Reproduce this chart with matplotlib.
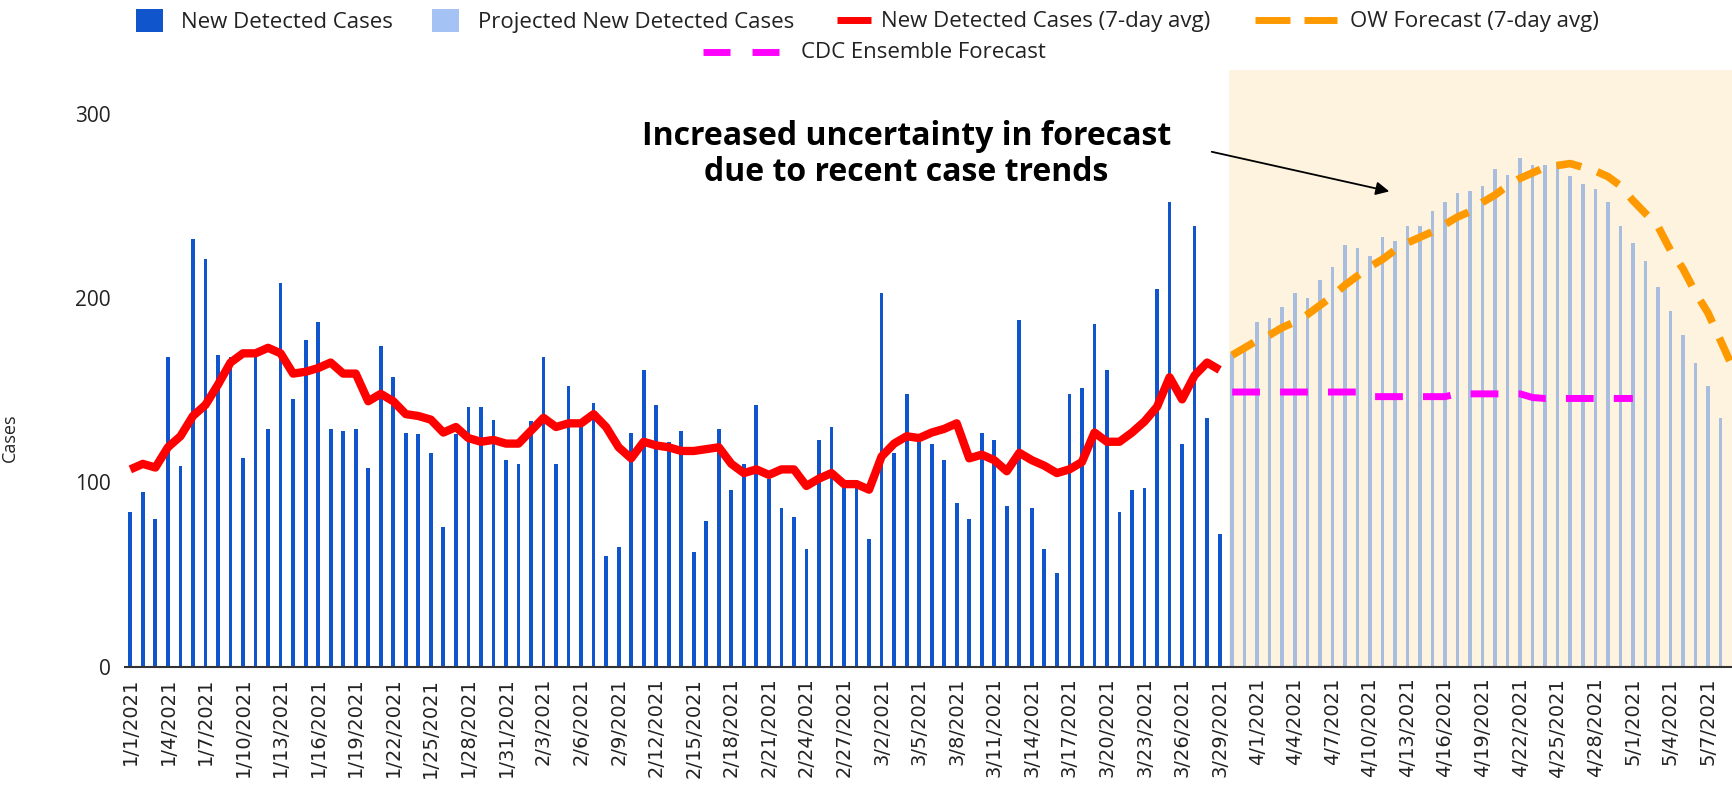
import matplotlib
matplotlib.use("Agg")
import matplotlib.pyplot as plt
import pandas as pd
import numpy as np
from matplotlib.patches import Patch
from matplotlib.lines import Line2D

# new detected cases, 1/1/2021 - 3/29/2021
detected = [84, 95, 80, 168, 109, 232, 221, 169, 168, 113, 172, 129, 208, 145, 177, 187,
            129, 128, 129, 108, 174, 157, 127, 126, 116, 76, 126, 141, 141, 134, 112, 110,
            133, 168, 110, 152, 130, 143, 60, 65, 127, 161, 142, 122, 128, 62, 79, 129,
            96, 110, 142, 102, 86, 81, 64, 123, 130, 98, 101, 69, 203, 116, 148, 122,
            121, 112, 89, 80, 127, 123, 87, 188, 86, 64, 51, 148, 151, 186, 161, 84,
            96, 97, 205, 252, 121, 239, 135, 72]
# projected new detected cases, 3/30/2021 - 5/8/2021
projected = [170, 171, 187, 189, 195, 203, 200, 210, 217, 229, 227, 223, 233, 231, 239, 239,
             247, 252, 257, 258, 261, 270, 267, 276, 272, 272, 274, 266, 262, 259, 252, 239,
             230, 220, 206, 193, 180, 165, 152, 135]
# 7-day average of detected cases
avg7 = [107, 110, 108, 119, 125, 136, 142, 153, 165, 170, 170, 173, 170, 159, 160, 162,
        165, 159, 159, 144, 148, 144, 137, 136, 134, 127, 130, 124, 122, 123, 121, 121,
        128, 135, 130, 132, 132, 137, 130, 119, 113, 122, 120, 119, 117, 117, 118, 119,
        110, 105, 107, 104, 107, 107, 98, 102, 105, 99, 99, 96, 114, 121, 125, 124,
        127, 129, 132, 113, 115, 112, 106, 116, 112, 109, 105, 107, 111, 127, 122, 122,
        127, 133, 141, 157, 145, 158, 165, 161]
# OW forecast (7-day avg), from 3/30/2021
ow_forecast = [169, 173, 177, 180, 184, 187, 191, 196, 201, 207, 212, 217, 221, 226, 230, 233,
               236, 240, 244, 247, 252, 256, 261, 265, 268, 271, 272, 273, 271, 269, 266, 261,
               253, 246, 239, 226, 216, 203, 192, 177, 162]
# CDC ensemble forecast, from 3/30/2021
cdc_forecast = [149] * 11 + [146.5] * 7 + [148] * 6 + [146] + [145.5] * 8

n_obs = len(detected)
dates = pd.date_range("2021-01-01", periods=n_obs + len(projected), freq="D")
labels = [f"{d.month}/{d.day}/{d.year}" for d in dates]

W, H = 1733, 793
fig = plt.figure(figsize=(W / 100, H / 100), dpi=100)
ax = fig.add_axes([0.0721, 0.1595, 0.9279, 0.7527])

x_obs = np.arange(n_obs)
x_proj = np.arange(n_obs, n_obs + len(projected))
x_ow = np.arange(n_obs, n_obs + len(ow_forecast))
x_cdc = np.arange(n_obs, n_obs + len(cdc_forecast))

ax.axvspan(n_obs - 0.23, n_obs + 45, color="#fdf3de", lw=0, zorder=0)
ax.bar(x_obs, detected, width=0.3, color="#1155cc", zorder=2)
ax.bar(x_proj, projected, width=0.28, color="#a9bedf", zorder=2)
ax.plot(x_obs, avg7, color="#ff0000", lw=6, solid_joinstyle="round",
        solid_capstyle="butt", zorder=3)
ax.plot(x_ow, ow_forecast, color="#ff9900", lw=5.5, dashes=(3.3, 2.2), zorder=3)
ax.plot(x_cdc, cdc_forecast, color="#ff00ff", lw=5, dashes=(4.0, 2.9), zorder=3)

ax.set_xlim(-0.43, 128.0)
ax.set_ylim(0, 324)

ticks = list(range(0, len(dates), 3))
ax.set_xticks(ticks)
ax.set_xticklabels([labels[i] for i in ticks], rotation=90, fontsize=14,
                   family="DejaVu Sans", color="#222222")
ax.tick_params(axis="x", length=0, pad=8)
ax.set_yticks([0, 100, 200, 300])
ax.set_yticklabels(["0", "100", "200", "300"], fontsize=15, family="Open Sans",
                   color="#222222")
ax.tick_params(axis="y", length=0, pad=10)
ax.set_ylabel("Cases", fontsize=13, family="Open Sans", color="#222222")
ax.yaxis.set_label_coords(-0.066, 0.384)

for side in ["top", "right", "left"]:
    ax.spines[side].set_visible(False)
ax.spines["bottom"].set_color("#333333")
ax.spines["bottom"].set_linewidth(1.5)
ax.spines["bottom"].set_zorder(4)

ax.text(62.0, 278.0, "Increased uncertainty in forecast\ndue to recent case trends",
        ha="center", va="center", fontsize=23, family="Open Sans", weight="bold",
        linespacing=1.12, color="black")
ax.annotate("", xy=(100.55, 257.9), xytext=(86.37, 279.4),
            arrowprops=dict(arrowstyle="-|>", color="black", lw=1.3,
                            mutation_scale=20, shrinkA=0, shrinkB=0))

# legend: one small legend per entry so each handle keeps its own size
fs = 16
em = fs * 100 / 72
entries = [
    (Patch(facecolor="#1155cc"), "New Detected Cases", 135.6, 21, 27, 26, 18),
    (Patch(facecolor="#a4c2f4"), "Projected New Detected Cases", 432.5, 21, 27, 26, 19),
    (Line2D([], [], color="#ff0000", lw=5, solid_capstyle="butt"),
     "New Detected Cases (7-day avg)", 837, 21, 34, 10, 10),
    (Line2D([], [], color="#ff9900", lw=5, dashes=(5.04, 2.02)),
     "OW Forecast (7-day avg)", 1255, 21, 82, 10, 13),
    (Line2D([], [], color="#ff00ff", lw=5, dashes=(3.89, 3.17)),
     "CDC Ensemble Forecast", 702.6, 53, 76, 10, 22),
]
for handle, label, left, yc, hw, hh, gap in entries:
    fig.legend([handle], [label], loc="center left",
               bbox_to_anchor=(left / W, 1 - yc / H), frameon=False,
               borderpad=0, borderaxespad=0, handlelength=hw / em,
               handleheight=hh / em, handletextpad=gap / em,
               prop=dict(family="Open Sans", size=fs), labelcolor="#222222")

fig.savefig("out.png", dpi=100)
